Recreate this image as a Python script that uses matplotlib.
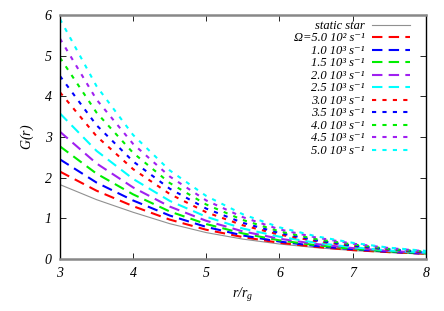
import numpy as np
import matplotlib
matplotlib.use('Agg')
import matplotlib.pyplot as plt

plt.rcParams['font.family'] = ['Liberation Serif', 'DejaVu Serif']
plt.rcParams['font.style'] = 'italic'
plt.rcParams['mathtext.fontset'] = 'custom'
plt.rcParams['mathtext.rm'] = 'Liberation Serif:italic'
plt.rcParams['mathtext.it'] = 'Liberation Serif:italic'

# radius in units of r_g
r = [3.0, 3.5, 4.0, 4.5, 5.0, 5.5, 6.0, 6.5, 7.0, 7.5, 8.0]

g_static = [1.83, 1.46, 1.15, 0.87, 0.65, 0.49, 0.37, 0.28, 0.21, 0.16, 0.12]
g_0500 = [2.15, 1.68, 1.30, 0.97, 0.72, 0.54, 0.40, 0.30, 0.22, 0.17, 0.13]
g_1000 = [2.45, 1.88, 1.44, 1.07, 0.79, 0.58, 0.43, 0.32, 0.24, 0.18, 0.13]
g_1500 = [2.77, 2.10, 1.59, 1.17, 0.86, 0.63, 0.46, 0.34, 0.25, 0.19, 0.14]
g_2000 = [3.13, 2.35, 1.76, 1.29, 0.94, 0.68, 0.50, 0.37, 0.27, 0.20, 0.15]
g_2500 = [3.58, 2.66, 1.97, 1.43, 1.04, 0.75, 0.55, 0.40, 0.29, 0.21, 0.16]
g_3000 = [4.10, 3.02, 2.21, 1.60, 1.15, 0.83, 0.60, 0.44, 0.32, 0.23, 0.16]
g_3500 = [4.50, 3.29, 2.40, 1.73, 1.24, 0.89, 0.64, 0.46, 0.33, 0.24, 0.17]
g_4000 = [4.95, 3.60, 2.61, 1.87, 1.34, 0.96, 0.68, 0.49, 0.36, 0.25, 0.18]
g_4500 = [5.42, 3.92, 2.83, 2.03, 1.44, 1.03, 0.73, 0.53, 0.38, 0.27, 0.19]
g_5000 = [5.90, 4.25, 3.05, 2.18, 1.55, 1.10, 0.78, 0.56, 0.40, 0.28, 0.20]

labels = [
    'static star',
    'Ω=5.0 10² s⁻¹',
    '1.0 10³ s⁻¹',
    '1.5 10³ s⁻¹',
    '2.0 10³ s⁻¹',
    '2.5 10³ s⁻¹',
    '3.0 10³ s⁻¹',
    '3.5 10³ s⁻¹',
    '4.0 10³ s⁻¹',
    '4.5 10³ s⁻¹',
    '5.0 10³ s⁻¹',
]
series = [g_static, g_0500, g_1000, g_1500, g_2000, g_2500,
          g_3000, g_3500, g_4000, g_4500, g_5000]

cols = ['#909090', '#ff0000', '#0000ff', '#00ee00', '#a020f0', '#00ffff',
        '#ff0000', '#0000ff', '#00ee00', '#a020f0', '#00ffff']
long_dash = (0, (5, 3))
short_dash = (0, (2, 3))
styles = ['-'] + [long_dash] * 5 + [short_dash] * 5

fig = plt.figure(figsize=(4.44, 3.11), dpi=100)
ax = fig.add_axes([0.135, 0.167, 0.824, 0.785])

for i in range(len(series)):
    lw = 0.8 if i == 0 else 1.5
    ax.plot(r, series[i], color=cols[i], linestyle=styles[i], lw=lw, label=labels[i])

ax.set_xlim(3, 8)
ax.set_ylim(0, 6)
ax.set_xticks([3, 4, 5, 6, 7, 8])
ax.set_yticks([0, 1, 2, 3, 4, 5, 6])
ax.tick_params(direction='in', top=True, right=True, length=4, width=0.6,
               labelsize=10, pad=6)
ax.spines['top'].set_color('#888888')
ax.spines['top'].set_linewidth(1.8)
ax.spines['bottom'].set_color('#888888')
ax.spines['bottom'].set_linewidth(1.8)
ax.spines['left'].set_linewidth(1.0)
ax.spines['right'].set_linewidth(1.0)

ax.set_xlabel('$r/r_g$', fontsize=10)
ax.set_ylabel('$G(r)$', fontsize=10, labelpad=6)

ax.legend(loc='upper right', frameon=False, markerfirst=False, fontsize=9,
          handlelength=3.0, handletextpad=0.6, labelspacing=0.04,
          borderaxespad=0.0, bbox_to_anchor=(0.97, 1.0))

fig.savefig('out.png', dpi=100)
